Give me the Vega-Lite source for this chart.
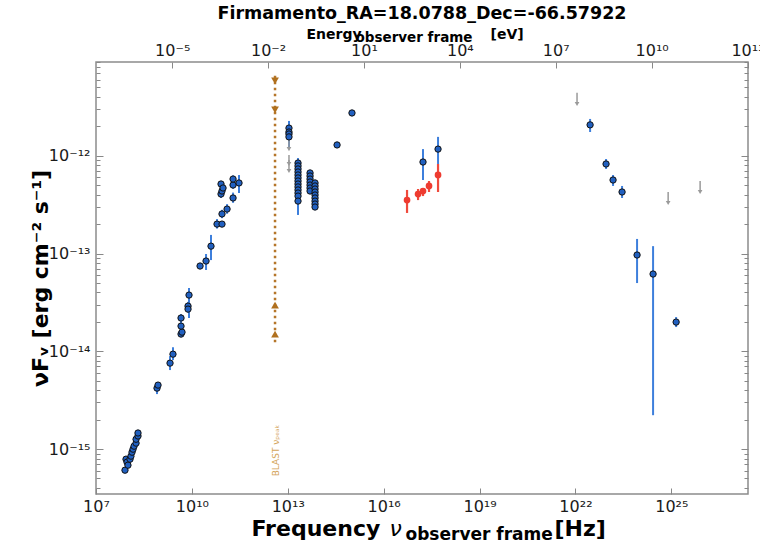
{
  "$schema": "https://vega.github.io/schema/vega-lite/v6.json",
  "width": 652,
  "height": 432,
  "autosize": {"type": "none"},
  "padding": {"left": 96, "top": 62, "right": 12, "bottom": 51},
  "background": "white",
  "config": {
    "font": "DejaVu Sans",
    "view": {"stroke": "#8c8c8c", "strokeWidth": 1.5}
  },
  "title": {
    "text": "Firmamento_RA=18.0788_Dec=-66.57922",
    "font": "DejaVu Sans",
    "fontSize": 17.5,
    "fontWeight": "bold",
    "color": "#000000",
    "anchor": "middle",
    "frame": "group",
    "offset": 5
  },
  "datasets": {
    "blue": [
      {"nu": 8.07e7, "F": 6.08e-16}, {"nu": 8.69e7, "F": 7.88e-16}, {"nu": 9.34e7, "F": 7.35e-16},
      {"nu": 1.0e8, "F": 6.84e-16}, {"nu": 1.16e8, "F": 7.88e-16}, {"nu": 1.24e8, "F": 8.46e-16},
      {"nu": 1.34e8, "F": 9.29e-16}, {"nu": 1.44e8, "F": 9.97e-16}, {"nu": 1.55e8, "F": 1.07e-15},
      {"nu": 1.79e8, "F": 1.15e-15}, {"nu": 1.79e8, "F": 1.26e-15}, {"nu": 2.06e8, "F": 1.36e-15},
      {"nu": 2.06e8, "F": 1.46e-15},
      {"nu": 8.11e8, "F": 4.20e-15}, {"nu": 8.72e8, "F": 4.51e-15},
      {"nu": 2.07e9, "F": 7.57e-15}, {"nu": 2.56e9, "F": 9.35e-15},
      {"nu": 4.57e9, "F": 1.50e-14}, {"nu": 4.91e9, "F": 1.57e-14}, {"nu": 4.57e9, "F": 1.81e-14},
      {"nu": 4.57e9, "F": 2.19e-14}, {"nu": 7.57e9, "F": 2.90e-14}, {"nu": 7.57e9, "F": 2.70e-14},
      {"nu": 8.13e9, "F": 3.76e-14},
      {"nu": 1.80e10, "F": 7.45e-14}, {"nu": 2.77e10, "F": 8.38e-14}, {"nu": 3.96e10, "F": 1.19e-13},
      {"nu": 6.11e10, "F": 2.00e-13}, {"nu": 8.75e10, "F": 2.00e-13}, {"nu": 8.75e10, "F": 2.54e-13},
      {"nu": 1.26e11, "F": 2.85e-13}, {"nu": 8.15e10, "F": 4.06e-13}, {"nu": 8.75e10, "F": 4.36e-13},
      {"nu": 8.15e10, "F": 5.14e-13}, {"nu": 9.42e10, "F": 4.68e-13}, {"nu": 1.94e11, "F": 3.70e-13},
      {"nu": 1.94e11, "F": 5.02e-13}, {"nu": 1.94e11, "F": 5.78e-13}, {"nu": 2.98e11, "F": 5.27e-13},
      {"nu": 1.09e13, "F": 1.92e-12}, {"nu": 1.09e13, "F": 1.75e-12}, {"nu": 1.09e13, "F": 1.67e-12},
      {"nu": 1.09e13, "F": 1.56e-12},
      {"nu": 2.09e13, "F": 8.43e-13}, {"nu": 2.09e13, "F": 7.87e-13}, {"nu": 2.09e13, "F": 7.33e-13},
      {"nu": 2.09e13, "F": 6.83e-13}, {"nu": 2.09e13, "F": 6.36e-13}, {"nu": 2.09e13, "F": 5.93e-13},
      {"nu": 2.09e13, "F": 5.52e-13}, {"nu": 2.09e13, "F": 5.14e-13}, {"nu": 2.09e13, "F": 4.80e-13},
      {"nu": 2.09e13, "F": 4.47e-13}, {"nu": 2.09e13, "F": 4.16e-13}, {"nu": 2.09e13, "F": 3.87e-13},
      {"nu": 2.09e13, "F": 3.44e-13},
      {"nu": 4.97e13, "F": 6.67e-13}, {"nu": 4.97e13, "F": 6.21e-13}, {"nu": 4.97e13, "F": 5.78e-13},
      {"nu": 4.97e13, "F": 5.39e-13}, {"nu": 4.97e13, "F": 5.02e-13}, {"nu": 4.97e13, "F": 4.68e-13},
      {"nu": 4.97e13, "F": 4.36e-13},
      {"nu": 7.12e13, "F": 5.27e-13}, {"nu": 7.12e13, "F": 4.91e-13}, {"nu": 7.12e13, "F": 4.57e-13},
      {"nu": 7.12e13, "F": 4.26e-13}, {"nu": 7.12e13, "F": 3.97e-13}, {"nu": 7.12e13, "F": 3.70e-13},
      {"nu": 7.12e13, "F": 3.44e-13}, {"nu": 7.12e13, "F": 3.21e-13}, {"nu": 7.12e13, "F": 2.99e-13},
      {"nu": 3.48e14, "F": 1.29e-12}, {"nu": 1.02e15, "F": 2.74e-12},
      {"nu": 1.70e17, "F": 8.63e-13}, {"nu": 5.02e17, "F": 1.17e-12},
      {"nu": 2.87e22, "F": 2.07e-12}, {"nu": 9.06e22, "F": 8.24e-13}, {"nu": 1.50e23, "F": 5.65e-13},
      {"nu": 2.87e23, "F": 4.26e-13}, {"nu": 8.46e23, "F": 9.66e-14}, {"nu": 2.68e24, "F": 6.17e-14},
      {"nu": 1.41e25, "F": 1.99e-14}
    ],
    "blue_err": [
      {"nu": 8.11e8, "lo": 3.65e-15, "hi": 4.84e-15},
      {"nu": 2.07e9, "lo": 6.43e-15, "hi": 8.93e-15},
      {"nu": 2.56e9, "lo": 8.13e-15, "hi": 1.10e-14},
      {"nu": 4.57e9, "lo": 1.40e-14, "hi": 2.40e-14},
      {"nu": 8.13e9, "lo": 2.19e-14, "hi": 4.44e-14},
      {"nu": 7.57e9, "lo": 2.5e-14, "hi": 3.2e-14},
      {"nu": 2.77e10, "lo": 6.78e-14, "hi": 9.89e-14},
      {"nu": 3.96e10, "lo": 8.57e-14, "hi": 1.55e-13},
      {"nu": 6.11e10, "lo": 1.80e-13, "hi": 2.25e-13},
      {"nu": 8.75e10, "lo": 2.30e-13, "hi": 2.80e-13},
      {"nu": 1.26e11, "lo": 2.55e-13, "hi": 3.20e-13},
      {"nu": 1.94e11, "lo": 3.30e-13, "hi": 4.20e-13},
      {"nu": 2.98e11, "lo": 4.16e-13, "hi": 6.35e-13},
      {"nu": 8.15e10, "lo": 3.7e-13, "hi": 4.4e-13},
      {"nu": 1.94e11, "lo": 4.6e-13, "hi": 6.3e-13},
      {"nu": 1.09e13, "lo": 1.17e-12, "hi": 2.27e-12},
      {"nu": 2.09e13, "lo": 2.48e-13, "hi": 9.48e-13},
      {"nu": 1.70e17, "lo": 5.65e-13, "hi": 1.17e-12},
      {"nu": 5.02e17, "lo": 8.24e-13, "hi": 1.56e-12},
      {"nu": 2.87e22, "lo": 1.75e-12, "hi": 2.38e-12},
      {"nu": 9.06e22, "lo": 7.33e-13, "hi": 9.27e-13},
      {"nu": 1.50e23, "lo": 4.91e-13, "hi": 6.36e-13},
      {"nu": 2.87e23, "lo": 3.70e-13, "hi": 4.91e-13},
      {"nu": 8.46e23, "lo": 4.99e-14, "hi": 1.41e-13},
      {"nu": 2.68e24, "lo": 2.22e-15, "hi": 1.19e-13},
      {"nu": 1.41e25, "lo": 1.77e-14, "hi": 2.24e-14}
    ],
    "red": [
      {"nu": 5.38e16, "F": 3.52e-13, "lo": 2.60e-13, "hi": 4.47e-13},
      {"nu": 1.19e17, "F": 4.06e-13, "lo": 3.52e-13, "hi": 4.57e-13},
      {"nu": 1.70e17, "F": 4.36e-13, "lo": 3.87e-13, "hi": 4.68e-13},
      {"nu": 2.62e17, "F": 4.91e-13, "lo": 4.26e-13, "hi": 5.52e-13},
      {"nu": 5.02e17, "F": 6.36e-13, "lo": 4.26e-13, "hi": 8.24e-13}
    ],
    "ul": [
      {"nu": 1.09e13, "F": 1.52e-12, "F2": 1.17e-12},
      {"nu": 1.09e13, "F": 1.02e-12, "F2": 8.24e-13},
      {"nu": 1.09e13, "F": 9.06e-13, "F2": 6.98e-13},
      {"nu": 1.12e22, "F": 4.40e-12, "F2": 3.39e-12},
      {"nu": 7.94e24, "F": 4.26e-13, "F2": 3.29e-13},
      {"nu": 7.94e25, "F": 5.52e-13, "F2": 4.26e-13}
    ],
    "blast_line": [{"nu": 3.99e12, "lo": 1.24e-14, "hi": 7.03e-12}],
    "blast_tri": [
      {"nu": 3.99e12, "F": 5.83e-12, "kind": "down"},
      {"nu": 3.99e12, "F": 2.94e-12, "kind": "down"},
      {"nu": 3.99e12, "F": 2.97e-14, "kind": "up"},
      {"nu": 3.99e12, "F": 1.50e-14, "kind": "up"}
    ]
  },
  "encoding": {
    "x": {"field": "nu", "type": "quantitative", "scale": {"type": "log", "domain": [1e7, 2.5e27], "nice": false}, "axis": null},
    "y": {"field": "F", "type": "quantitative", "scale": {"type": "log", "domain": [3.47e-16, 9.1e-12], "nice": false}, "axis": null}
  },
  "resolve": {"axis": {"x": "independent", "y": "independent"}},
  "layer": [
    {
      "data": {"name": "blast_line"},
      "mark": {"type": "rule", "strokeDash": [2.5, 3.5], "strokeWidth": 2.5, "color": "#b5762a"},
      "encoding": {
        "y": {"field": "lo", "type": "quantitative", "scale": {"type": "log", "domain": [3.47e-16, 9.1e-12], "nice": false}, "axis": null},
        "y2": {"field": "hi"}
      }
    },
    {
      "data": {"name": "blast_tri"},
      "mark": {"type": "point", "filled": true, "size": 60, "color": "#b0701e", "opacity": 1},
      "encoding": {
        "shape": {"field": "kind", "type": "nominal", "scale": {"domain": ["down", "up"], "range": ["triangle-down", "triangle-up"]}, "legend": null}
      }
    },
    {
      "data": {"name": "blue_err"},
      "mark": {"type": "rule", "color": "#3d7fdc", "strokeWidth": 2},
      "encoding": {
        "y": {"field": "lo", "type": "quantitative", "scale": {"type": "log", "domain": [3.47e-16, 9.1e-12], "nice": false}, "axis": null},
        "y2": {"field": "hi"}
      }
    },
    {
      "data": {"name": "red"},
      "mark": {"type": "rule", "color": "#f04a3c", "strokeWidth": 2.2},
      "encoding": {
        "y": {"field": "lo", "type": "quantitative", "scale": {"type": "log", "domain": [3.47e-16, 9.1e-12], "nice": false}, "axis": null},
        "y2": {"field": "hi"}
      }
    },
    {
      "data": {"name": "ul"},
      "mark": {"type": "rule", "color": "#9a9a9a", "strokeWidth": 1.5},
      "encoding": {"y2": {"field": "F2"}}
    },
    {
      "data": {"name": "ul"},
      "mark": {"type": "point", "shape": "triangle-down", "filled": true, "size": 22, "color": "#9a9a9a", "opacity": 1},
      "encoding": {
        "y": {"field": "F2", "type": "quantitative", "scale": {"type": "log", "domain": [3.47e-16, 9.1e-12], "nice": false}, "axis": null}
      }
    },
    {
      "data": {"name": "red"},
      "mark": {"type": "point", "filled": true, "size": 45, "color": "#ee3b30", "opacity": 1}
    },
    {
      "data": {"name": "blue"},
      "mark": {"type": "point", "filled": true, "size": 40, "fill": "#2160c0", "stroke": "#111111", "strokeWidth": 1, "opacity": 1}
    },
    {
      "data": {"name": "blue"},
      "mark": {"type": "point", "opacity": 0},
      "encoding": {
        "x": {
          "field": "nu", "type": "quantitative",
          "scale": {"type": "log", "domain": [1e7, 2.5e27], "nice": false},
          "axis": {
            "orient": "bottom", "grid": false, "domain": false,
            "values": [1e7, 1e10, 1e13, 1e16, 1e19, 1e22, 1e25],
            "tickSize": -6, "tickColor": "#888888", "tickWidth": 1,
            "labelPadding": 10, "labelFontSize": 16, "labelColor": "#1a1a1a", "labelFont": "DejaVu Sans",
            "labelFlush": false, "labelOverlap": false,
            "labelExpr": "'10' + replace(replace(replace(replace(replace(replace(replace(replace(replace(replace(replace(toString(round(log(datum.value)/LN10)),'-','⁻'),regexp('0','g'),'⁰'),regexp('1','g'),'¹'),regexp('2','g'),'²'),regexp('3','g'),'³'),regexp('4','g'),'⁴'),regexp('5','g'),'⁵'),regexp('6','g'),'⁶'),regexp('7','g'),'⁷'),regexp('8','g'),'⁸'),regexp('9','g'),'⁹')",
            "title": "Frequency",
            "titleFont": "DejaVu Sans", "titleFontSize": 22, "titleFontWeight": "bold", "titleColor": "#000000",
            "titleAngle": 0, "titleAlign": "left", "titleBaseline": "alphabetic",
            "titleX": 155, "titleY": 41
          }
        },
        "y": {
          "field": "F", "type": "quantitative",
          "scale": {"type": "log", "domain": [3.47e-16, 9.1e-12], "nice": false},
          "axis": {
            "orient": "left", "grid": false, "domain": false,
            "values": [4e-16, 5e-16, 6e-16, 7e-16, 8e-16, 9e-16, 1e-15, 2e-15, 3e-15, 4e-15, 5e-15, 6e-15, 7e-15, 8e-15, 9e-15, 1e-14, 2e-14, 3e-14, 4e-14, 5e-14, 6e-14, 7e-14, 8e-14, 9e-14, 1e-13, 2e-13, 3e-13, 4e-13, 5e-13, 6e-13, 7e-13, 8e-13, 9e-13, 1e-12, 2e-12, 3e-12, 4e-12, 5e-12, 6e-12, 7e-12, 8e-12, 9e-12],
            "tickSize": {"condition": {"test": "abs(log(datum.value)/LN10 - round(log(datum.value)/LN10)) < 0.01", "value": -7}, "value": -4},
            "tickColor": "#888888", "tickWidth": 1,
            "labelPadding": 13, "labelFontSize": 16, "labelColor": "#1a1a1a", "labelFont": "DejaVu Sans",
            "labelFlush": false, "labelOverlap": false,
            "labelExpr": "(abs(log(datum.value)/LN10 - round(log(datum.value)/LN10)) < 0.01) ? ('10' + replace(replace(replace(replace(replace(replace(replace(replace(replace(replace(replace(toString(round(log(datum.value)/LN10)),'-','⁻'),regexp('0','g'),'⁰'),regexp('1','g'),'¹'),regexp('2','g'),'²'),regexp('3','g'),'³'),regexp('4','g'),'⁴'),regexp('5','g'),'⁵'),regexp('6','g'),'⁶'),regexp('7','g'),'⁷'),regexp('8','g'),'⁸'),regexp('9','g'),'⁹')) : ''",
            "title": "νFᵥ [erg cm⁻² s⁻¹]",
            "titleFont": "DejaVu Sans", "titleFontSize": 22, "titleFontWeight": "bold", "titleColor": "#000000",
            "titleAngle": 270, "titleAlign": "center", "titleBaseline": "middle",
            "titleX": -56, "titleY": 216
          }
        }
      }
    },
    {
      "data": {"name": "blue"},
      "mark": {"type": "point", "opacity": 0},
      "encoding": {
        "x": {
          "field": "nu", "type": "quantitative",
          "scale": {"type": "log", "domain": [1e7, 2.5e27], "nice": false},
          "axis": {
            "orient": "top", "grid": false, "domain": false,
            "values": [2.418e9, 2.418e12, 2.418e15, 2.418e18, 2.418e21, 2.418e24, 2.418e27],
            "tickSize": -6, "tickColor": "#888888", "tickWidth": 1,
            "labelPadding": 10, "labelFontSize": 16, "labelColor": "#1a1a1a", "labelFont": "DejaVu Sans",
            "labelFlush": false, "labelOverlap": false,
            "labelExpr": "'10' + replace(replace(replace(replace(replace(replace(replace(replace(replace(replace(replace(toString(round(log(datum.value*4.1357e-15)/LN10)),'-','⁻'),regexp('0','g'),'⁰'),regexp('1','g'),'¹'),regexp('2','g'),'²'),regexp('3','g'),'³'),regexp('4','g'),'⁴'),regexp('5','g'),'⁵'),regexp('6','g'),'⁶'),regexp('7','g'),'⁷'),regexp('8','g'),'⁸'),regexp('9','g'),'⁹')",
            "title": "Energy",
            "titleFont": "DejaVu Sans", "titleFontSize": 14, "titleFontWeight": "bold", "titleColor": "#000000",
            "titleAngle": 0, "titleAlign": "left", "titleBaseline": "alphabetic",
            "titleX": 210, "titleY": -24
          }
        },
        "y": {
          "field": "F", "type": "quantitative",
          "scale": {"type": "log", "domain": [3.47e-16, 9.1e-12], "nice": false},
          "axis": {
            "orient": "right", "title": null, "grid": false, "domain": false, "labels": false,
            "values": [4e-16, 5e-16, 6e-16, 7e-16, 8e-16, 9e-16, 1e-15, 2e-15, 3e-15, 4e-15, 5e-15, 6e-15, 7e-15, 8e-15, 9e-15, 1e-14, 2e-14, 3e-14, 4e-14, 5e-14, 6e-14, 7e-14, 8e-14, 9e-14, 1e-13, 2e-13, 3e-13, 4e-13, 5e-13, 6e-13, 7e-13, 8e-13, 9e-13, 1e-12, 2e-12, 3e-12, 4e-12, 5e-12, 6e-12, 7e-12, 8e-12, 9e-12],
            "tickSize": {"condition": {"test": "abs(log(datum.value)/LN10 - round(log(datum.value)/LN10)) < 0.01", "value": -7}, "value": -4},
            "tickColor": "#888888", "tickWidth": 1
          }
        }
      }
    },
    {
      "data": {"name": "blue"},
      "mark": {"type": "point", "opacity": 0},
      "encoding": {
        "x": {
          "field": "nu", "type": "quantitative",
          "scale": {"type": "log", "domain": [1e7, 2.5e27], "nice": false},
          "axis": {
            "orient": "bottom", "grid": false, "domain": false, "labels": false, "ticks": false,
            "title": "ν",
            "titleFont": "DejaVu Sans", "titleFontSize": 22, "titleFontWeight": "normal", "titleFontStyle": "italic", "titleColor": "#000000",
            "titleAngle": 0, "titleAlign": "left", "titleBaseline": "alphabetic",
            "titleX": 293, "titleY": 41
          }
        }
      }
    },
    {
      "data": {"name": "blue"},
      "mark": {"type": "point", "opacity": 0},
      "encoding": {
        "x": {
          "field": "nu", "type": "quantitative",
          "scale": {"type": "log", "domain": [1e7, 2.5e27], "nice": false},
          "axis": {
            "orient": "bottom", "grid": false, "domain": false, "labels": false, "ticks": false,
            "title": "observer frame",
            "titleFont": "DejaVu Sans", "titleFontSize": 17, "titleFontWeight": "bold", "titleColor": "#000000",
            "titleAngle": 0, "titleAlign": "left", "titleBaseline": "alphabetic",
            "titleX": 309, "titleY": 45
          }
        }
      }
    },
    {
      "data": {"name": "blue"},
      "mark": {"type": "point", "opacity": 0},
      "encoding": {
        "x": {
          "field": "nu", "type": "quantitative",
          "scale": {"type": "log", "domain": [1e7, 2.5e27], "nice": false},
          "axis": {
            "orient": "bottom", "grid": false, "domain": false, "labels": false, "ticks": false,
            "title": "[Hz]",
            "titleFont": "DejaVu Sans", "titleFontSize": 22, "titleFontWeight": "bold", "titleColor": "#000000",
            "titleAngle": 0, "titleAlign": "left", "titleBaseline": "alphabetic",
            "titleX": 458, "titleY": 41
          }
        }
      }
    },
    {
      "data": {"name": "blue"},
      "mark": {"type": "point", "opacity": 0},
      "encoding": {
        "x": {
          "field": "nu", "type": "quantitative",
          "scale": {"type": "log", "domain": [1e7, 2.5e27], "nice": false},
          "axis": {
            "orient": "top", "grid": false, "domain": false, "labels": false, "ticks": false,
            "title": "observer frame",
            "titleFont": "DejaVu Sans", "titleFontSize": 13.5, "titleFontWeight": "bold", "titleColor": "#000000",
            "titleAngle": 0, "titleAlign": "left", "titleBaseline": "alphabetic",
            "titleX": 259, "titleY": -21
          }
        }
      }
    },
    {
      "data": {"name": "blue"},
      "mark": {"type": "point", "opacity": 0},
      "encoding": {
        "x": {
          "field": "nu", "type": "quantitative",
          "scale": {"type": "log", "domain": [1e7, 2.5e27], "nice": false},
          "axis": {
            "orient": "top", "grid": false, "domain": false, "labels": false, "ticks": false,
            "title": "[eV]",
            "titleFont": "DejaVu Sans", "titleFontSize": 14, "titleFontWeight": "bold", "titleColor": "#000000",
            "titleAngle": 0, "titleAlign": "left", "titleBaseline": "alphabetic",
            "titleX": 394, "titleY": -24
          }
        }
      }
    },
    {
      "data": {"name": "blast_line"},
      "mark": {"type": "point", "opacity": 0},
      "encoding": {
        "x": {
          "field": "nu", "type": "quantitative",
          "scale": {"type": "log", "domain": [1e7, 2.5e27], "nice": false},
          "axis": {
            "orient": "bottom", "grid": false, "domain": false, "labels": false, "ticks": false,
            "title": "BLAST νₚₑₐₖ",
            "titleFont": "DejaVu Sans", "titleFontSize": 9, "titleFontWeight": "normal", "titleColor": "#d4a55a",
            "titleAngle": 270, "titleAlign": "center", "titleBaseline": "middle",
            "titleX": 179, "titleY": -44
          }
        },
        "y": {"field": "lo", "type": "quantitative", "scale": {"type": "log", "domain": [3.47e-16, 9.1e-12], "nice": false}, "axis": null}
      }
    }
  ]
}
